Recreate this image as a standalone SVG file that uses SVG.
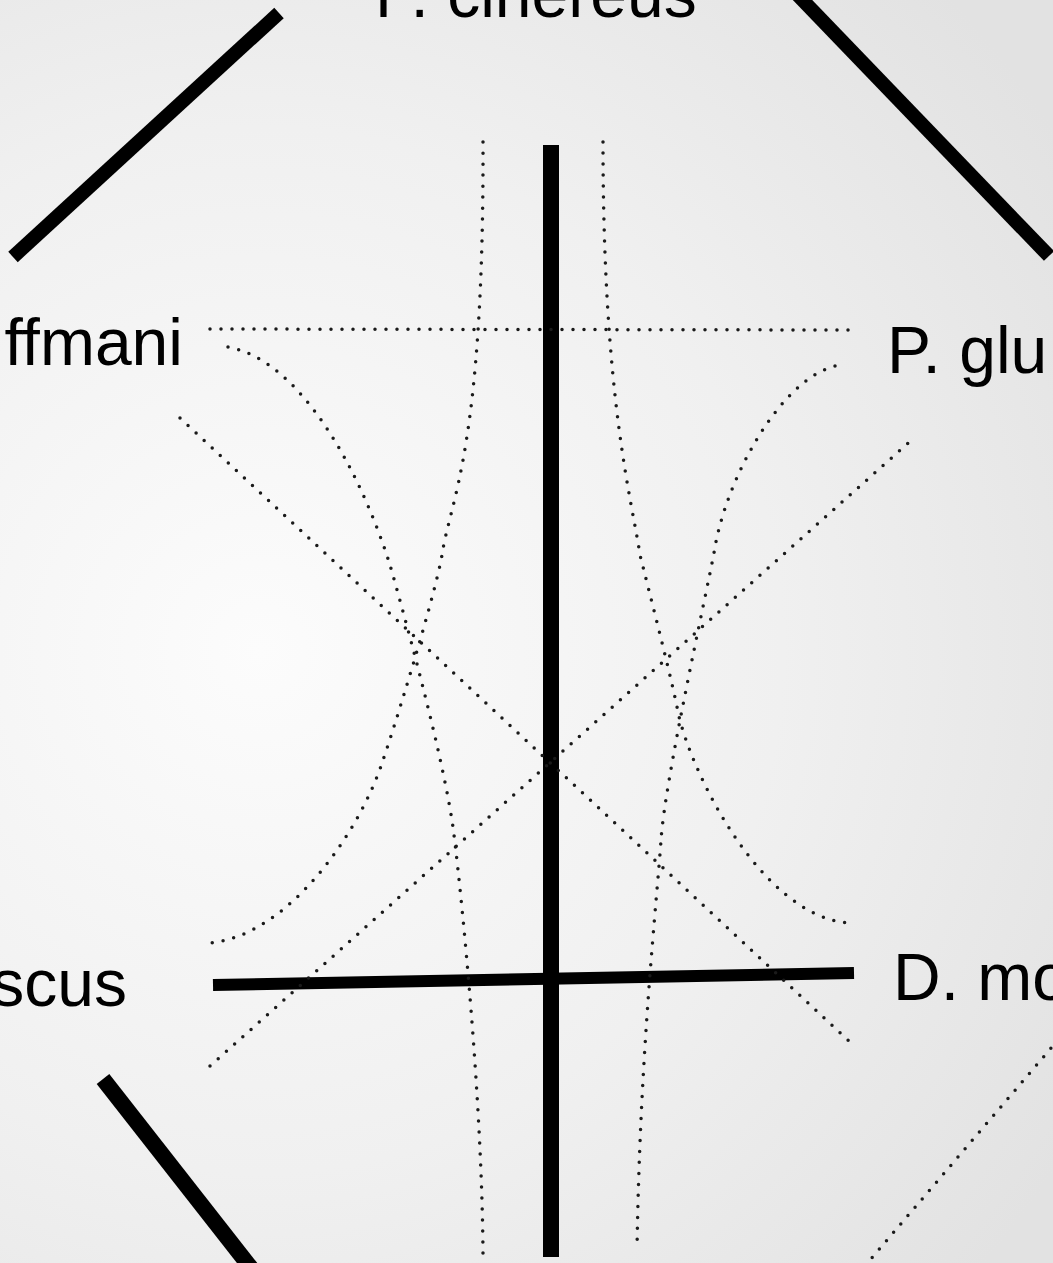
<svg xmlns="http://www.w3.org/2000/svg" width="1053" height="1263" viewBox="0 0 1053 1263">
  <defs>
    <radialGradient id="bg" cx="260" cy="650" r="950" gradientUnits="userSpaceOnUse">
      <stop offset="0" stop-color="#fcfcfc"/>
      <stop offset="0.55" stop-color="#f0f0f0"/>
      <stop offset="1" stop-color="#e2e2e2"/>
    </radialGradient>
  </defs>
  <style>
    .lbl { font-family: "Liberation Sans", Arial, sans-serif; font-size: 66px; fill: #000; }
    .thick { fill: none; stroke: #000; stroke-linecap: butt; }
    .dot { fill: none; stroke: #1a1a1a; stroke-width: 3.5; stroke-linecap: round; stroke-dasharray: 0 11; }
  </style>
  <rect x="0" y="0" width="1053" height="1263" fill="url(#bg)"/>

  <g id="connectors">
    <!-- solid thick edges -->
    <line class="thick" x1="13" y1="257" x2="279" y2="13" stroke-width="14"/>
    <line class="thick" x1="790" y1="-13" x2="1049" y2="256" stroke-width="14"/>
    <line class="thick" x1="103" y1="1079" x2="251" y2="1268" stroke-width="16"/>
    <line class="thick" x1="551" y1="145" x2="551" y2="1257" stroke-width="16"/>
    <line class="thick" x1="213" y1="985" x2="854" y2="973" stroke-width="12"/>

    <!-- dotted edges -->
    <line class="dot" x1="210" y1="329" x2="848" y2="330"/>
    <line class="dot" x1="180" y1="418" x2="851" y2="1043"/>
    <line class="dot" x1="210" y1="1066" x2="915" y2="437"/>
    <line class="dot" x1="1058" y1="1040" x2="864" y2="1267"/>

    <path class="dot" d="M483,142 C484,450 450,500 442,555 C434,600 392,735 382,763 C360,830 290,935 210,943"/>
    <path class="dot" d="M228,347 C300,360 360,470 390,565 C400,600 445,760 454,835 C462,900 482,1100 483,1255"/>
    <path class="dot" d="M603,142 C603,400 632,500 640,555 C650,595 672,680 678,712 C690,770 760,915 848,923"/>
    <path class="dot" d="M835,366 C780,380 725,480 714,553 C705,600 665,780 661,840 C657,900 640,1050 637,1250"/>
  </g>

  <g id="node-cinereus"><text class="lbl" x="375" y="17">P. cinereus</text></g>
  <g id="node-ffmani"><text class="lbl" x="183" y="365" text-anchor="end">ffmani</text></g>
  <g id="node-glu"><text class="lbl" x="887" y="373">P. glu</text></g>
  <g id="node-scus"><text class="lbl" x="127" y="1006" text-anchor="end">scus</text></g>
  <g id="node-mo"><text class="lbl" x="893" y="1000">D. mo</text></g>
</svg>
